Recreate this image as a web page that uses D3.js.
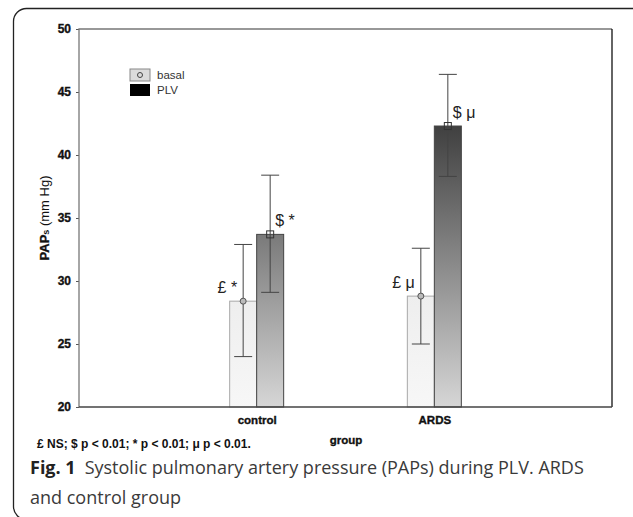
<!DOCTYPE html>
<html lang="en">
<head>
    <meta charset="UTF-8">
    <title>PAPs during PLV</title>
    <style>
        body { margin: 0; background: #fff; }
        svg { display: block; }
    </style>
</head>
<body>
    <script src="https://d3js.org/d3.v7.min.js"></script>
    <svg id="vis"></svg>
    <script>
        // Data
        const groups = ["control", "ARDS"]
        const series = ["basal", "PLV"]
        const basalMean = [28.4, 28.8]
        const basalHigh = [32.9, 32.6]
        const basalLow = [24.0, 25.0]
        const plvMean = [33.7, 42.3]
        const plvHigh = [38.4, 46.4]
        const plvLow = [29.1, 38.3]
        const basalMarks = ["£ *", "£ μ"]
        const plvMarks = ["$ *", "$ μ"]
        const yTicks = [20, 25, 30, 35, 40, 45, 50]

        // Layout
        const W = 633, H = 517
        const plot = { left: 79, right: 612, top: 29, bottom: 407 }
        const tickFont = "'Liberation Sans', Arial, sans-serif"

        const svg = d3.select('#vis').attr('width', W).attr('height', H)

        // gradients
        const defs = svg.append('defs')
        const gPlv = defs.append('linearGradient').attr('id', 'gPlv')
            .attr('gradientUnits', 'userSpaceOnUse')
            .attr('x1', 0).attr('x2', 0).attr('y1', plot.top).attr('y2', plot.bottom)
        gPlv.append('stop').attr('offset', 0).attr('stop-color', '#0c0c0c')
        gPlv.append('stop').attr('offset', 1).attr('stop-color', '#d6d6d6')
        const gBasal = defs.append('linearGradient').attr('id', 'gBasal')
            .attr('x1', 0).attr('x2', 0).attr('y1', 0).attr('y2', 1)
        gBasal.append('stop').attr('offset', 0).attr('stop-color', '#eeeeee')
        gBasal.append('stop').attr('offset', 1).attr('stop-color', '#f7f7f7')

        // outer frame (figure panel)
        svg.append('rect')
            .attr('x', 13.5).attr('y', 8.5).attr('width', 640).attr('height', 511)
            .attr('rx', 13).attr('fill', 'none').attr('stroke', '#222').attr('stroke-width', 1.3)

        // Scales
        const y = d3.scaleLinear().domain([20, 50]).range([plot.bottom, plot.top])
        const x = d3.scalePoint().domain(groups).range([plot.left, plot.right]).padding(1)
        const xs = d3.scaleBand().domain(series).range([-27, 27])

        // Y axis
        const yAxis = svg.append('g')
            .attr('transform', `translate(${plot.left},0)`)
            .call(d3.axisLeft(y).tickValues(yTicks).tickSize(3).tickPadding(5))
        yAxis.select('.domain').remove()
        yAxis.selectAll('line').attr('stroke', '#555')
        yAxis.selectAll('text')
            .attr('font-family', tickFont).attr('font-size', 12).attr('font-weight', 'bold')
            .attr('fill', '#111').attr('stroke', '#111').attr('stroke-width', 0.35)

        // X axis
        const xAxis = svg.append('g')
            .attr('transform', `translate(0,${plot.bottom})`)
            .call(d3.axisBottom(x).tickSize(0).tickPadding(9))
        xAxis.select('.domain').remove()
        xAxis.selectAll('text')
            .attr('font-family', tickFont).attr('font-size', 11.5).attr('font-weight', 'bold')
            .attr('fill', '#111').attr('stroke', '#111').attr('stroke-width', 0.35)

        // Bars
        const rows = groups.map((g, i) => [
            { g, s: 'basal', mean: basalMean[i], hi: basalHigh[i], lo: basalLow[i], mark: basalMarks[i] },
            { g, s: 'PLV', mean: plvMean[i], hi: plvHigh[i], lo: plvLow[i], mark: plvMarks[i] }
        ]).flat()

        const cx = d => x(d.g) + xs(d.s) + xs.bandwidth() / 2

        svg.append('g').selectAll('rect').data(rows).join('rect')
            .attr('x', d => x(d.g) + xs(d.s))
            .attr('y', d => y(d.mean))
            .attr('width', xs.bandwidth())
            .attr('height', d => y(20) - y(d.mean))
            .attr('fill', d => d.s === 'PLV' ? 'url(#gPlv)' : 'url(#gBasal)')
            .attr('stroke', d => d.s === 'PLV' ? '#444' : '#a8a8a8')
            .attr('stroke-width', 1)

        // plot frame
        const frame = svg.append('g').attr('fill', 'none')
        frame.append('path').attr('d', `M${plot.left},${plot.bottom}V${plot.top}H${plot.right}`)
            .attr('stroke', '#777').attr('stroke-width', 1.3)
        frame.append('path').attr('d', `M${plot.right},${plot.top}V${plot.bottom}`)
            .attr('stroke', '#111').attr('stroke-width', 1.3)
        frame.append('path').attr('d', `M${plot.left},${plot.bottom}H${plot.right}`)
            .attr('stroke', '#444').attr('stroke-width', 1.3)

        // Error bars
        const err = svg.append('g').attr('stroke', '#444').attr('stroke-width', 1).attr('fill', 'none')
        err.selectAll('path').data(rows).join('path')
            .attr('d', d => {
                const c = cx(d)
                return `M${c - 9},${y(d.hi)}H${c + 9}M${c},${y(d.hi)}V${y(d.lo)}M${c - 9},${y(d.lo)}H${c + 9}`
            })

        // mean markers
        svg.append('g').selectAll('circle').data(rows.filter(d => d.s === 'basal')).join('circle')
            .attr('cx', cx).attr('cy', d => y(d.mean)).attr('r', 3)
            .attr('fill', '#bbb').attr('stroke', '#555').attr('stroke-width', 1)
        svg.append('g').selectAll('rect').data(rows.filter(d => d.s === 'PLV')).join('rect')
            .attr('x', d => cx(d) - 3.5).attr('y', d => y(d.mean) - 3.5)
            .attr('width', 7).attr('height', 7)
            .attr('fill', 'none').attr('stroke', '#333').attr('stroke-width', 1)

        // significance marks
        svg.append('g').selectAll('text').data(rows).join('text')
            .attr('x', d => d.s === 'basal' ? cx(d) - 6 : cx(d) + 5)
            .attr('y', d => y(d.mean) - 8)
            .attr('text-anchor', d => d.s === 'basal' ? 'end' : 'start')
            .attr('font-family', tickFont).attr('font-size', 16).attr('fill', '#222')
            .text(d => d.mark)

        // legend
        const legend = svg.append('g').attr('transform', 'translate(130,69)')
        legend.append('rect').attr('width', 20).attr('height', 12)
            .attr('fill', '#dcdcdc').attr('stroke', '#888')
        legend.append('circle').attr('cx', 10).attr('cy', 6).attr('r', 2.5)
            .attr('fill', 'none').attr('stroke', '#444')
        legend.append('rect').attr('y', 15).attr('width', 20).attr('height', 12).attr('fill', '#000')
        legend.selectAll('text').data(series).join('text')
            .attr('x', 27).attr('y', (d, i) => 10 + i * 15)
            .attr('font-family', tickFont).attr('font-size', 11.5).attr('fill', '#333')
            .text(d => d)

        // axis titles
        const yTitle = svg.append('text')
            .attr('transform', `translate(49,218) rotate(-90)`)
            .attr('text-anchor', 'middle')
            .attr('font-family', tickFont).attr('font-size', 13).attr('fill', '#111')
        yTitle.append('tspan').attr('font-weight', 'bold').attr('stroke', '#111').attr('stroke-width', 0.3).text('PAP')
        yTitle.append('tspan').attr('font-weight', 'bold').attr('font-size', 9).text('s')
        yTitle.append('tspan').text(' (mm Hg)')

        svg.append('text')
            .attr('x', 346).attr('y', 444).attr('text-anchor', 'middle')
            .attr('font-family', tickFont).attr('font-size', 11.5).attr('font-weight', 'bold')
            .attr('fill', '#111').attr('stroke', '#111').attr('stroke-width', 0.35)
            .text('group')

        // footnote
        svg.append('text')
            .attr('x', 37).attr('y', 448)
            .attr('font-family', tickFont).attr('font-size', 12).attr('font-weight', 'bold')
            .attr('fill', '#111')
            .text('£ NS; $ p < 0.01; * p < 0.01; μ p < 0.01.')

        // caption
        const capFont = "'Open Sans', 'Noto Sans', sans-serif"
        const cap1 = svg.append('text').attr('x', 30).attr('y', 474)
            .attr('font-family', capFont).attr('font-size', 18).attr('fill', '#3a3a3a')
        cap1.append('tspan').attr('font-weight', 'bold').attr('fill', '#222').text('Fig. 1')
        cap1.append('tspan').attr('dx', 9).text('Systolic pulmonary artery pressure (PAPs) during PLV. ARDS')
        svg.append('text').attr('x', 30).attr('y', 504)
            .attr('font-family', capFont).attr('font-size', 18).attr('fill', '#3a3a3a')
            .text('and control group')
    </script>
</body>
</html>
